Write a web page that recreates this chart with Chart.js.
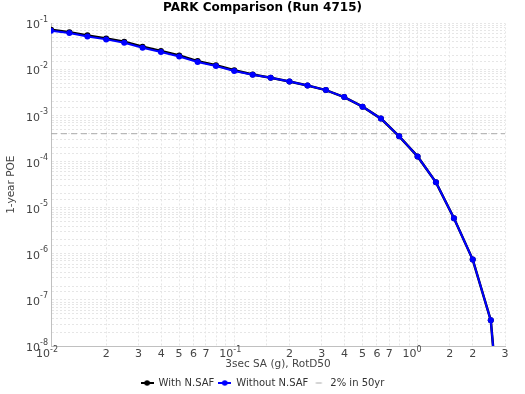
<!DOCTYPE html>
<html>
<head>
<meta charset="utf-8">
<script src="https://cdn.jsdelivr.net/npm/chart.js@4"></script>
<style>
html,body{margin:0;padding:0;background:#fff;}
#wrap{width:525px;height:394px;}
</style>
</head>
<body>
<div id="wrap"><canvas id="c" width="525" height="394"></canvas></div>
<script>
const xValues = [0.01, 0.0126, 0.0158, 0.02, 0.0251, 0.0316, 0.0398, 0.0501, 0.0631, 0.0794,
  0.1, 0.126, 0.158, 0.2, 0.251, 0.316, 0.398, 0.501, 0.631, 0.794,
  1.0, 1.26, 1.58, 2.0, 2.51, 3.16];
const withSAF = [0.073, 0.0645, 0.055, 0.0473, 0.0402, 0.0313, 0.0252, 0.0202, 0.0152, 0.0124,
  0.0096, 0.0078, 0.0066, 0.0055, 0.0045, 0.00357, 0.00252, 0.00156, 0.00086, 0.000354,
  0.00013, 3.56e-5, 5.9e-6, 7.5e-7, 3.6e-8, 1e-12];
const withoutSAF = [0.0695, 0.0617, 0.0522, 0.045, 0.0381, 0.0297, 0.0239, 0.0192, 0.0145, 0.0119,
  0.0093, 0.0077, 0.0066, 0.0055, 0.0045, 0.00357, 0.00252, 0.00156, 0.00086, 0.000354,
  0.00013, 3.56e-5, 5.9e-6, 7.5e-7, 3.6e-8, 1e-12];
const refLineX = [0.01, 3];
const refLineY = [4.04e-4, 4.04e-4];
const seriesNames = ['With N.SAF', 'Without N.SAF', '2% in 50yr'];
const xMinorDigits = [2, 3, 4, 5, 6, 7];

function pts(xs, ys){ return xs.map((x,i)=>({x:x, y:ys[i]})); }
function isPow10(v){ const e = Math.log10(v); return Math.abs(e - Math.round(e)) < 1e-6; }
function expOf(v){ return String(Math.round(Math.log10(v))); }

function legendIcon(color, dashed){
  const c = document.createElement('canvas');
  c.width = 13; c.height = 8;
  const g = c.getContext('2d');
  g.strokeStyle = color; g.lineWidth = dashed ? 1 : 2;
  g.beginPath();
  if (dashed){ g.moveTo(3.5,4); g.lineTo(9.5,4); }
  else { g.moveTo(0,4); g.lineTo(13,4); }
  g.stroke();
  if (!dashed){
    g.fillStyle = color; g.beginPath(); g.arc(6.5,4,2.8,0,Math.PI*2); g.fill();
  }
  return c;
}
const icons = [legendIcon('#000000', false), legendIcon('#0000ff', false), legendIcon('#aaaaaa', true)];

const FONT = "'DejaVu Sans', sans-serif";
const LABEL_COLOR = '#444';

// draws "10" with a raised exponent at the library's tick positions
const powerLabels = {
  id: 'powerLabels',
  afterDraw(chart){
    const ctx = chart.ctx;
    ctx.save();
    ctx.fillStyle = LABEL_COLOR;
    const xs = chart.scales.x, ys = chart.scales.y;
    xs.ticks.forEach(t => {
      if (!isPow10(t.value)) return;
      const px = xs.getPixelForValue(t.value);
      const e = expOf(t.value);
      ctx.font = "11px " + FONT; ctx.textAlign = 'right'; ctx.textBaseline = 'alphabetic';
      ctx.fillText('10', px - 1, xs.top + 11);
      ctx.font = "8px " + FONT; ctx.textAlign = 'left';
      ctx.fillText(e, px - 1, xs.top + 6);
    });
    ys.ticks.forEach(t => {
      if (!isPow10(t.value)) return;
      const py = ys.getPixelForValue(t.value);
      const e = expOf(t.value);
      ctx.font = "8px " + FONT; ctx.textAlign = 'right'; ctx.textBaseline = 'alphabetic';
      const ew = ctx.measureText(e).width;
      ctx.fillText(e, ys.right - 3, py - 1.5);
      ctx.font = "11px " + FONT;
      ctx.fillText('10', ys.right - 3 - ew, py + 5);
    });
    ctx.restore();
  }
};

new Chart(document.getElementById('c'), {
  type: 'line',
  data: {
    datasets: [
      { label: seriesNames[0], data: pts(xValues, withSAF), borderColor: '#000', backgroundColor: '#000',
        borderWidth: 2.5, pointRadius: 3, pointBorderWidth: 0, pointHoverRadius: 3, order: 2 },
      { label: seriesNames[1], data: pts(xValues, withoutSAF), borderColor: '#0000ff', backgroundColor: '#0000ff',
        borderWidth: 2, pointRadius: 3, pointBorderWidth: 0, pointHoverRadius: 3, order: 1 },
      { label: seriesNames[2], data: pts(refLineX, refLineY), borderColor: '#aaaaaa', backgroundColor: '#aaaaaa',
        borderWidth: 1, borderDash: [6, 4], pointRadius: 0, order: 3 }
    ]
  },
  options: {
    responsive: false,
    animation: false,
    devicePixelRatio: 1,
    layout: { padding: { left: 0, right: 0, top: 0, bottom: -4 } },
    plugins: {
      title: { display: true, text: 'PARK Comparison (Run 4715)', color: '#000',
        font: { family: FONT, size: 12, weight: 'bold' }, padding: { top: 1, bottom: 8 } },
      legend: { position: 'bottom',
        labels: { usePointStyle: true, pointStyleWidth: 13, boxHeight: 8, padding: 4, color: '#333',
          font: { family: FONT, size: 10 },
          generateLabels: (chart) => chart.data.datasets.map((d, i) => ({
            text: d.label, pointStyle: icons[i], datasetIndex: i, hidden: false,
            fontColor: '#333', strokeStyle: d.borderColor, fillStyle: d.borderColor, lineWidth: 0
          }))
        } },
      tooltip: { enabled: false }
    },
    scales: {
      x: { type: 'logarithmic', min: 0.01, max: 3,
        afterFit: (s) => { s.height = 28; },
        title: { display: true, text: '3sec SA (g), RotD50', color: LABEL_COLOR, font: { family: FONT, size: 10.5 }, padding: { top: 0, bottom: 3 } },
        border: { display: true, color: '#c0c0c0', width: 1, dash: [2, 2] },
        grid: { color: '#e6e6e6', lineWidth: 1, drawTicks: false },
        ticks: { autoSkip: false, maxRotation: 0, padding: 2, font: { family: FONT, size: 11 },
          color: (c) => (c.tick && isPow10(c.tick.value)) ? 'rgba(0,0,0,0)' : LABEL_COLOR,
          callback: function(v){
            if (isPow10(v)) return '10' + expOf(v);
            const e = Math.floor(Math.log10(v) + 1e-9);
            const m = Math.round(v / Math.pow(10, e));
            if (xMinorDigits.includes(m)) return String(m);
            return '';
          } }
      },
      y: { type: 'logarithmic', min: 1e-8, max: 0.1,
        afterFit: (s) => { s.width = 51; },
        title: { display: true, text: '1-year POE', color: LABEL_COLOR, font: { family: FONT, size: 10.5 }, padding: { top: 5, bottom: 4 } },
        border: { display: true, color: '#c0c0c0', width: 1, dash: [2, 2] },
        grid: { color: '#e6e6e6', lineWidth: 1, drawTicks: false },
        ticks: { autoSkip: false, padding: 3, font: { family: FONT, size: 11 },
          color: 'rgba(0,0,0,0)',
          callback: function(v){
            if (isPow10(v)) return '10' + expOf(v);
            return '';
          } }
      },
      yRight: { type: 'linear', position: 'right', display: true,
        afterFit: (s) => { s.width = 20; },
        grid: { display: false, drawTicks: false }, border: { display: false },
        ticks: { display: false } }
    }
  },
  plugins: [powerLabels]
});
</script>
</body>
</html>
